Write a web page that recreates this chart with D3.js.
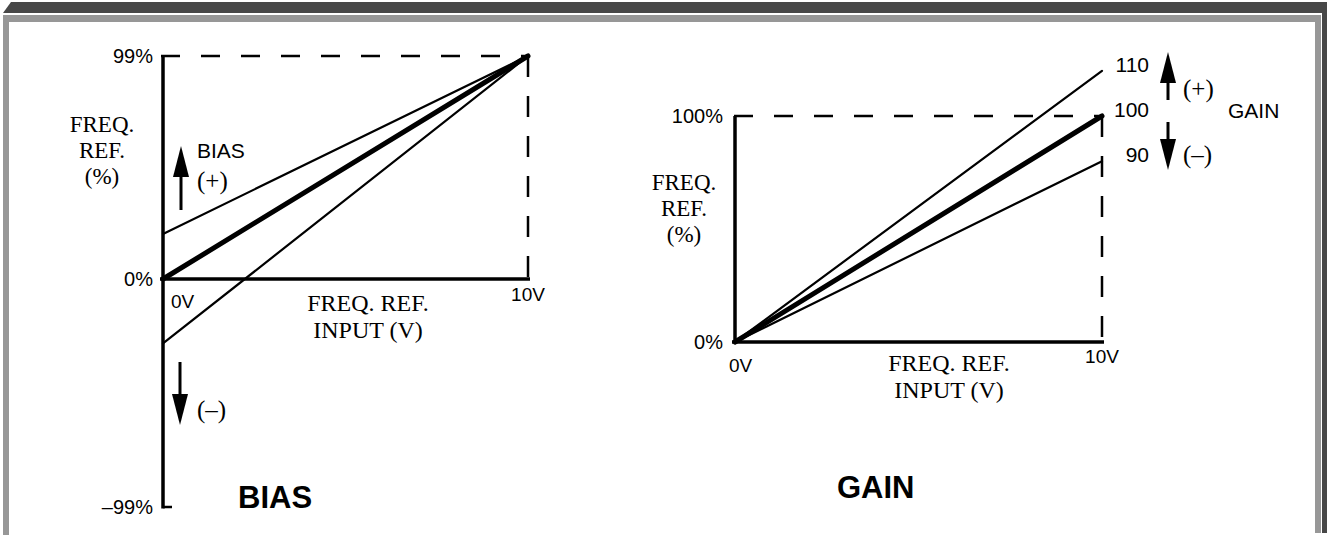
<!DOCTYPE html>
<meta charset="utf-8" />
<html>
<head>
<title>bias / gain</title>
<script src="https://cdn.jsdelivr.net/npm/d3@7"></script>
<style>
body { margin: 0; background: #fff; }
.sans { font-family: "Liberation Sans", Arial, sans-serif; }
.serif { font-family: "Liberation Serif", "Times New Roman", serif; }
</style>
</head>
<body>
<div id="viz"></div>
<script>

// BIAS: value at 0V of each line, all meet at biasEnd at 10V
var biasStarts = [20, 0, -28];
var biasEnd = 99;
var biasTicks = [99, 0, -99];
var biasTickLabels = ["99%", "0%", "\u201399%"];

// GAIN: value at 10V of each line, all start at 0% / 0V
var gainEnds = [120, 100, 80];
var gainNames = ["110", "100", "90"];
var gainTicks = [100, 0];
var gainTickLabels = ["100%", "0%"];

var voltTicks = [0, 10];
var voltLabels = ["0V", "10V"];

var yTitle = ["FREQ.", "REF.", "(%)"];
var xTitle = ["FREQ. REF.", "INPUT (V)"];

var width = 1327, height = 535;
var svg = d3.select("#viz").append("svg")
    .attr("width", width)
    .attr("height", height);

// page frame
svg.append("polygon").attr("points", "3,13 11,2 1327,2 1327,13").attr("fill", "#474747");
svg.append("rect").attr("x", 1322).attr("y", 2).attr("width", 5).attr("height", 531).attr("fill", "#474747");
svg.append("rect").attr("x", 3).attr("y", 15).attr("width", 1318).attr("height", 7).attr("fill", "#979797");
svg.append("rect").attr("x", 3).attr("y", 15).attr("width", 6).attr("height", 520).attr("fill", "#979797");
svg.append("rect").attr("x", 1315).attr("y", 15).attr("width", 6).attr("height", 518).attr("fill", "#979797");

function txt(x, y, s, cls, size, anchor, weight) {
  return svg.append("text")
    .attr("class", cls)
    .attr("x", x).attr("y", y)
    .attr("font-size", size)
    .attr("text-anchor", anchor || "start")
    .attr("font-weight", weight || "normal")
    .text(s);
}

// stacked lines in one text element
function block(x, y, lines, size, lead) {
  var t = svg.append("text")
    .attr("class", "serif")
    .attr("x", x).attr("y", y)
    .attr("font-size", size)
    .attr("text-anchor", "middle");
  t.selectAll("tspan")
    .data(lines)
    .enter().append("tspan")
    .attr("x", x)
    .attr("dy", function(d, i) { return i == 0 ? 0 : lead; })
    .text(function(d) { return d; });
  return t;
}

function seg(x1, y1, x2, y2, w, dash) {
  var l = svg.append("line")
    .attr("x1", x1).attr("y1", y1).attr("x2", x2).attr("y2", y2)
    .attr("stroke", "#000").attr("stroke-width", w);
  if (dash) l.attr("stroke-dasharray", dash);
  return l;
}

// vertical arrow, tail -> tip
function arrow(x, yTail, yTip) {
  var dir = yTip < yTail ? 1 : -1;
  var headLen = 31, half = 8;
  seg(x, yTail, x, yTip + dir * headLen, 3);
  svg.append("path")
    .attr("d", "M" + x + "," + yTip + " L" + (x - half) + "," + (yTip + dir * headLen) +
      " L" + (x + half) + "," + (yTip + dir * headLen) + " Z")
    .attr("fill", "#000");
}

var SANS = 21, SERIF = 26, STACK = 23;

// ---------- BIAS ----------
var lx = d3.scaleLinear().domain([0, 10]).range([163, 528]);
var ly = d3.scaleLinear().domain([-99, 0, 99]).range([507, 279, 56]);

seg(lx(0) - 2, ly(99), lx(10), ly(99), 2.5, "19,21");
seg(lx(10), ly(99), lx(10), ly(0), 2.5, "21,19");
seg(lx(0), ly(99), lx(0), ly(-99) + 1.5, 3.5);
seg(lx(0) - 3, ly(0), lx(10) + 2, ly(0), 3.5);
seg(lx(0), ly(-99), lx(0) + 9, ly(-99), 2.5);

svg.append("g").selectAll("line")
  .data(biasStarts)
  .enter().append("line")
  .attr("x1", lx(0)).attr("y1", function(d) { return ly(d); })
  .attr("x2", lx(10)).attr("y2", ly(biasEnd))
  .attr("stroke", "#000")
  .attr("stroke-linecap", "round")
  .attr("stroke-width", function(d) { return d == 0 ? 5 : 2.2; });

biasTicks.forEach(function(t, i) {
  txt(153, ly(t), biasTickLabels[i], "sans", SANS - 1, "end").attr("dominant-baseline", "central");
});
txt(lx(0) + 8, 308, voltLabels[0], "sans", SANS - 2);
txt(lx(10), 301, voltLabels[1], "sans", SANS - 2, "middle");

block(102, 132, yTitle, STACK, 26);
block(368, 311, xTitle, STACK + 1, 26.5);

arrow(181, 210, 146);
txt(197, 158, "BIAS", "sans", SANS);
txt(197, 189, "(+)", "serif", SERIF - 1);
arrow(180, 362, 425);
txt(197, 418, "(\u2013)", "serif", SERIF - 1);
txt(238, 508, "BIAS", "sans", 31, "start", "bold");

// ---------- GAIN ----------
var gx = d3.scaleLinear().domain([0, 10]).range([735, 1102]);
var gy = d3.scaleLinear().domain([0, 100]).range([342, 116]);

seg(gx(0) - 1, gy(100), gx(10), gy(100), 2.5, "19,21");
seg(gx(10), gy(100), gx(10), gy(0), 2.5, "21,19");
seg(gx(0), gy(100), gx(0), gy(0), 3.5);
seg(gx(0) - 3, gy(0), gx(10) + 2, gy(0), 3.5);

svg.append("g").selectAll("line")
  .data(gainEnds)
  .enter().append("line")
  .attr("x1", gx(0)).attr("y1", gy(0))
  .attr("x2", gx(10)).attr("y2", function(d) { return gy(d); })
  .attr("stroke", "#000")
  .attr("stroke-linecap", "round")
  .attr("stroke-width", function(d) { return d == 100 ? 5 : 2.2; });

gainTicks.forEach(function(t, i) {
  txt(723, gy(t), gainTickLabels[i], "sans", SANS - 1, "end").attr("dominant-baseline", "central");
});
txt(729, 372, voltLabels[0], "sans", SANS - 2);
txt(gx(10), 363, voltLabels[1], "sans", SANS - 2, "middle");

gainEnds.forEach(function(v, i) {
  txt(1149, gy(v) + 1, gainNames[i], "sans", SANS, "end");
});

block(684, 190, yTitle, STACK, 26);
block(949, 371, xTitle, STACK + 1, 26.5);

arrow(1168, 100, 52);
txt(1183, 97, "(+)", "serif", SERIF - 1);
arrow(1168, 122, 170);
txt(1183, 163, "(\u2013)", "serif", SERIF - 1);
txt(1228, 118, "GAIN", "sans", SANS);
txt(837, 498, "GAIN", "sans", 31, "start", "bold");

</script>
</body>
</html>
